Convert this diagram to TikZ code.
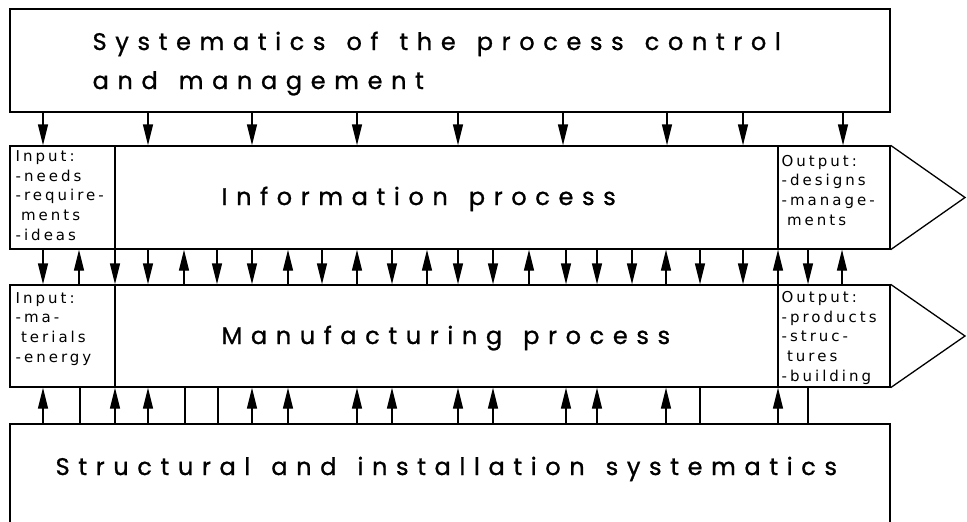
\documentclass[tikz,border=0pt]{standalone}
\usepackage{fontspec}
\usepackage{tikz}
\usetikzlibrary{arrows.meta}
\newfontfamily\bigfont[LetterSpace=36, WordSpace=1.4, FakeBold=1]{Poppins}
\newfontfamily\smallfont[LetterSpace=20]{DejaVu Sans}

\begin{document}
\begin{tikzpicture}[x=1pt, y=-1pt, line width=1.3pt,
    box/.style={draw, rectangle, inner sep=0pt},
    big/.style={font=\bigfont\fontsize{24}{40}\selectfont, inner sep=0pt, anchor=base west},
    small/.style={font=\smallfont\fontsize{15}{19.6}\selectfont, align=left, inner sep=0pt, anchor=base west},
    tip/.style={-{Triangle[length=21pt, width=10pt]}}]

    \clip (0,0) rectangle (967,522);

    \node[box, minimum width=880pt, minimum height=103pt] (a) at (450, 60.5) {};
    \node[box, minimum width=880pt, minimum height=103pt] (b) at (450, 197.5) {};
    \node[box, minimum width=880pt, minimum height=102pt] (c) at (450, 336) {};
    \node[box, minimum width=880pt, minimum height=130pt] (d) at (450, 489) {};

    \coordinate (bt) at (965, 197.5);
    \coordinate (ct) at (965, 336);
    \draw (b.north east) -- (bt) -- (b.south east);
    \draw (c.north east) -- (ct) -- (c.south east);

    \draw (b.north -| 115,0) -- (b.south -| 115,0);
    \draw (b.north -| 778,0) -- (b.south -| 778,0);
    \draw (c.north -| 115,0) -- (c.south -| 115,0);
    \draw (c.north -| 778,0) -- (c.south -| 778,0);

    \node[big] (a1) at (92, 50) {Systematics of the process control};
    \node[big] (a2) at (92, 89) {and management};
    \node[big] (b1) at (221, 205) {Information process};
    \node[big] (c1) at (221, 344) {Manufacturing process};
    \node[big] (d1) at (55, 475) {Structural and installation systematics};

    \node[small] (e) at (15, 240) {Input:\\-needs\\-require-\\\phantom{-}ments\\-ideas};
    \node[small] (f) at (781, 225) {Output:\\-designs\\-manage-\\\phantom{-}ments};
    \node[small] (g) at (15, 362) {Input:\\-ma-\\\phantom{-}terials\\-energy};
    \node[small] (h) at (781, 381) {Output:\\-products\\-struc-\\\phantom{-}tures\\-building};

    \foreach \x in {43, 148, 252, 357, 458, 563, 667, 743, 843}
        \draw[tip] (a.south -| \x,0) -- (b.north -| \x,0);
    \foreach \x in {43, 115, 148, 217, 252, 322, 392, 458, 493, 566, 597, 632, 700, 743, 808}
        \draw[tip] (b.south -| \x,0) -- (c.north -| \x,0);
    \foreach \x in {79, 184, 288, 357, 427, 529, 666, 778, 842}
        \draw[tip] (c.north -| \x,0) -- (b.south -| \x,0);
    \foreach \x in {43, 115, 148, 252, 288, 357, 392, 458, 493, 566, 597, 666, 778}
        \draw[tip] (d.north -| \x,0) -- (c.south -| \x,0);
    \foreach \x in {80, 185, 218, 700, 808}
        \draw (d.north -| \x,0) -- (c.south -| \x,0);

\end{tikzpicture}
\end{document}
